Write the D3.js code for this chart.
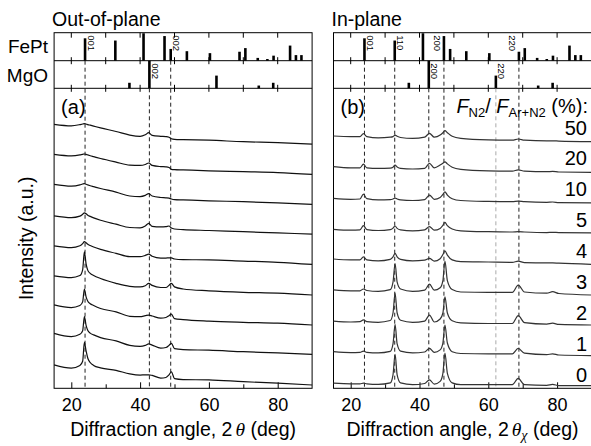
<!DOCTYPE html>
<html>
<head>
<meta charset="utf-8">
<script src="https://cdnjs.cloudflare.com/ajax/libs/d3/7.8.5/d3.min.js"></script>
<style>
  body { margin: 0; background: #fff; }
  svg { font-family: "Liberation Sans", Arial, sans-serif; }
</style>
</head>
<body>
<svg id="chart" width="591" height="446"></svg>
<script>
// ---- data ----
// out-of-plane scans (2theta grid, curves from 0 % to 50 %)
const oopAngles = [15, 20, 22.5, 23.3, 23.8, 24.3, 24.8, 25.5, 26.5, 28.5, 33, 37, 40, 41.5, 42.5, 43.5, 46, 47.5, 48.4, 49.1, 50, 52.5, 60, 70, 80, 90];
const oopCurves = [
  [7.8, 6.7, 7.6, 9.0, 15.3, 12.5, 10.0, 8.6, 7.6, 6.8, 6.0, 4.8, 4.4, 4.5, 4.5, 4.3, 3.4, 3.6, 4.5, 5.5, 3.2, 2.9, 2.8, 2.2, 1.7, 1.1],
  [8.3, 7.2, 8.0, 9.2, 13.9, 11.0, 9.3, 8.4, 7.8, 6.9, 5.8, 4.3, 4.0, 4.3, 4.8, 4.4, 3.4, 3.6, 4.3, 5.0, 3.2, 2.9, 2.7, 2.2, 1.8, 1.3],
  [7.8, 6.9, 7.6, 8.8, 13.1, 10.5, 9.0, 8.2, 7.6, 6.6, 5.5, 4.0, 3.9, 4.2, 4.4, 4.1, 3.4, 3.6, 4.2, 4.7, 3.2, 2.9, 2.4, 2.0, 1.7, 1.1],
  [7.5, 6.9, 7.6, 9.5, 15.5, 11.5, 9.3, 8.3, 7.6, 6.6, 5.0, 4.0, 3.8, 4.2, 5.0, 4.3, 3.6, 3.6, 4.3, 5.0, 3.8, 3.1, 2.5, 2.0, 1.7, 1.1],
  [7.5, 6.9, 7.5, 8.2, 8.9, 8.5, 8.0, 7.6, 7.1, 6.3, 5.0, 3.9, 3.9, 4.3, 4.7, 4.0, 3.4, 3.4, 3.5, 3.5, 3.1, 2.9, 2.8, 2.4, 2.0, 1.3],
  [7.5, 6.9, 7.4, 8.0, 8.5, 8.2, 7.7, 7.3, 6.8, 6.0, 4.7, 3.6, 3.5, 4.1, 5.0, 4.0, 3.8, 3.9, 4.1, 3.4, 3.1, 2.9, 2.6, 2.2, 1.8, 1.4],
  [8.0, 7.4, 7.8, 8.1, 8.2, 8.0, 7.8, 7.5, 7.2, 6.6, 5.4, 4.1, 3.9, 4.3, 4.9, 4.1, 3.6, 3.5, 3.4, 3.1, 2.9, 2.8, 2.5, 2.2, 1.8, 1.3],
  [8.0, 7.5, 7.8, 8.0, 8.1, 8.0, 7.8, 7.5, 7.2, 6.6, 5.4, 4.4, 4.3, 4.6, 5.1, 4.3, 3.9, 3.8, 3.6, 3.0, 2.9, 2.8, 2.5, 2.2, 1.9, 1.3],
  [8.0, 7.5, 7.9, 8.1, 8.2, 8.1, 7.9, 7.7, 7.4, 6.8, 5.6, 4.4, 4.0, 4.5, 5.2, 4.3, 4.0, 3.9, 3.7, 3.2, 3.0, 2.9, 2.7, 2.2, 1.9, 1.4]
];
const oopOffsets = [0, 10, 20, 30, 40, 50, 60, 70, 80];

// in-plane scans
const ipAngles = [15, 20, 22.7, 23.7, 24.7, 28, 31.5, 32.3, 32.9, 33.5, 34.5, 38, 41.5, 42.9, 44.3, 46, 46.8, 47.4, 48.1, 49.5, 52, 60, 67, 68.7, 70.5, 77, 78.7, 80.5, 90];
const ipCurves = [
  [1.7, 1.5, 1.5, 1.7, 1.5, 1.3, 1.8, 4.5, 11.3, 4.5, 1.8, 1.2, 1.6, 2.8, 1.4, 2.3, 5.0, 11.7, 5.0, 1.8, 1.2, 1.2, 1.2, 3.3, 1.2, 1.0, 1.3, 0.9, 0.9],
  [1.9, 1.6, 1.7, 2.1, 1.7, 1.5, 2.0, 4.5, 11.0, 4.5, 2.1, 1.5, 1.8, 3.0, 1.7, 2.5, 4.8, 10.8, 4.8, 1.9, 1.3, 1.2, 1.2, 3.0, 1.4, 0.9, 1.2, 0.8, 0.6],
  [1.8, 1.5, 1.6, 2.2, 1.6, 1.4, 2.0, 4.5, 11.1, 4.5, 2.1, 1.4, 1.8, 3.8, 1.5, 2.5, 4.5, 9.9, 4.5, 1.9, 1.2, 1.0, 1.0, 3.6, 1.3, 0.8, 1.1, 0.7, 0.5],
  [1.9, 1.6, 1.6, 2.2, 1.7, 1.4, 2.0, 4.5, 10.7, 4.5, 2.2, 1.4, 1.8, 3.8, 1.8, 2.6, 5.0, 11.5, 5.0, 2.0, 1.2, 1.1, 1.1, 3.5, 1.2, 0.8, 1.3, 0.7, 0.2],
  [1.9, 1.6, 1.6, 2.6, 1.6, 1.3, 1.8, 2.6, 3.8, 2.6, 1.8, 1.3, 1.5, 2.1, 1.2, 2.0, 3.4, 4.6, 3.2, 1.6, 1.0, 0.9, 0.8, 1.2, 0.7, 0.6, 0.6, 0.5, 0.1],
  [1.5, 1.2, 1.3, 2.7, 1.4, 1.1, 1.4, 1.9, 2.6, 1.8, 1.3, 1.0, 1.3, 2.4, 1.2, 1.8, 2.8, 3.8, 2.7, 1.6, 1.0, 0.7, 0.6, 0.7, 0.6, 0.4, 0.5, 0.4, 0.3],
  [1.5, 1.2, 1.3, 2.9, 1.4, 1.0, 1.1, 1.3, 1.6, 1.3, 1.0, 0.8, 1.1, 2.6, 1.2, 1.8, 2.8, 3.7, 2.6, 1.4, 0.8, 0.5, 0.4, 0.6, 0.4, 0.2, 0.3, 0.1, 0.0],
  [1.8, 1.4, 1.4, 2.6, 1.4, 1.2, 1.3, 1.6, 2.3, 1.7, 1.2, 1.0, 1.2, 2.9, 1.4, 2.3, 2.9, 3.4, 2.7, 1.6, 0.9, 0.4, 0.3, 0.7, 0.3, 0.1, 0.2, 0.0, -0.1],
  [1.7, 1.5, 1.5, 2.5, 1.5, 1.1, 1.3, 1.5, 2.0, 1.6, 1.2, 0.9, 1.3, 2.6, 1.3, 2.0, 2.8, 3.5, 2.8, 1.6, 0.9, 0.4, 0.3, 0.7, 0.3, 0.1, 0.1, 0.0, -0.2]
];
const ipOffsets = [0, 10.3, 20.6, 30.9, 41.2, 51.5, 61.8, 72.1, 82.4];
const ratioLabels = ["0", "1", "2", "3", "4", "5", "10", "20", "50"];

// reference stick patterns (relative intensity, %)
const fePtPeaks = [24.0, 32.8, 41.0, 47.1, 48.9, 53.6, 60.3, 68.9, 70.6, 74.2, 77.0, 78.8, 83.6, 85.3, 86.9];
const fePtInt   = [80, 72, 98, 88, 42, 34, 27, 32, 45, 10, 6, 18, 54, 20, 20];
const mgoPeaks  = [36.9, 42.7, 62.2, 74.5, 78.7];
const mgoInt    = [20, 100, 46, 10, 20];

// indexed reflections
const oopFePtHkl = [[24.0, "001"], [48.9, "002"]];
const oopMgoHkl  = [[42.7, "002"]];
const ipFePtHkl  = [[24.0, "001"], [32.8, "110"], [47.1, "200"], [68.9, "220"]];
const ipMgoHkl   = [[42.7, "200"], [62.2, "220"]];

// guide lines
const oopGuides = [[24.0, "FePt"], [42.7, "MgO"], [48.9, "FePt"]];
const ipGuides  = [[24.0, "FePt"], [32.8, "FePt"], [42.7, "MgO"], [47.1, "FePt"], [62.2, "MgO"], [68.9, "FePt"]];

const xTicksMajor = [20, 40, 60, 80];
const xTicksMinor = [30, 50, 70];

// ---- layout ----
const svg = d3.select("#chart");
const pw = 258;
const yTop = 32.7, yMid = 60.7, yMain = 88.3, yBot = 388.3;

const yMainScale = d3.scaleLinear().domain([0, 100]).range([yBot, yMain]);
const yFePt = d3.scaleLinear().domain([0, 100]).range([yMid, yTop]);
const yMgo = d3.scaleLinear().domain([0, 100]).range([yMain, yMid]);

function drawPanel(cfg) {
  const x = d3.scaleLinear().domain([15, 90]).range([cfg.x0, cfg.x0 + pw]);
  const g = svg.append("g");

  // frames
  g.append("rect").attr("x", cfg.x0).attr("y", yTop).attr("width", pw).attr("height", yBot - yTop)
    .attr("fill", "none").attr("stroke", "#000").attr("stroke-width", 1);
  [yMid, yMain].forEach(yy => g.append("line")
    .attr("x1", cfg.x0).attr("x2", cfg.x0 + pw).attr("y1", yy).attr("y2", yy)
    .attr("stroke", "#000"));

  // ticks on top box lines
  const allTicks = xTicksMajor.concat(xTicksMinor);
  allTicks.forEach(t => {
    g.append("line").attr("x1", x(t)).attr("x2", x(t)).attr("y1", yTop).attr("y2", yTop + 5).attr("stroke", "#000");
    [yMid, yMain].forEach(yy => g.append("line").attr("x1", x(t)).attr("x2", x(t))
      .attr("y1", yy - 3.5).attr("y2", yy + 3.5).attr("stroke", "#000"));
  });

  // bottom axis
  const axMaj = d3.axisBottom(x).tickValues(xTicksMajor).tickSizeInner(-6).tickSizeOuter(0).tickPadding(10);
  const axMin = d3.axisBottom(x).tickValues(xTicksMinor).tickSizeInner(-4).tickSizeOuter(0).tickFormat("");
  const ga = g.append("g").attr("transform", `translate(0,${yBot})`).call(axMaj);
  g.append("g").attr("transform", `translate(0,${yBot})`).call(axMin).select(".domain").remove();
  ga.select(".domain").remove();
  ga.selectAll("text").attr("font-size", 18).attr("font-family", "Liberation Sans, Arial, sans-serif").attr("fill", "#000");
  g.selectAll(".tick line").attr("stroke", "#000");

  // guide lines
  cfg.guides.forEach(([a, ph], i) => {
    g.append("line").attr("x1", x(a)).attr("x2", x(a))
      .attr("y1", ph === "FePt" ? yMid : yMain).attr("y2", yBot)
      .attr("stroke", cfg.grey && a === 62.2 ? "#aaa" : "#222")
      .attr("stroke-width", 1).attr("stroke-dasharray", "4,3");
  });

  // sticks
  fePtPeaks.forEach((p, i) => g.append("line").attr("x1", x(p)).attr("x2", x(p))
    .attr("y1", yFePt(0)).attr("y2", yFePt(fePtInt[i])).attr("stroke", "#000").attr("stroke-width", 2.6));
  mgoPeaks.forEach((p, i) => g.append("line").attr("x1", x(p)).attr("x2", x(p))
    .attr("y1", yMgo(0)).attr("y2", yMgo(mgoInt[i])).attr("stroke", "#000").attr("stroke-width", 2.6));

  const hkl = (list, y0, leftSet) => list.forEach(([a, t]) => {
    const left = leftSet.includes(t);
    const xx = left ? x(a) - 9.5 : x(a) + 2.5;
    g.append("text").attr("transform", `translate(${xx},${y0}) rotate(90)`)
      .attr("font-size", 9.5).text(t);
  });
  hkl(cfg.fePtHkl, yTop + 2.5, cfg.leftLabels);
  hkl(cfg.mgoHkl, yMid + 2.5, []);

  // curves
  const line = d3.line().curve(d3.curveMonotoneX);
  cfg.curves.forEach((c, i) => {
    const pts = cfg.angles.map((a, j) => [x(a), yMainScale(c[j] + cfg.offsets[i])]);
    g.append("path").attr("d", line(pts)).attr("fill", "none")
      .attr("stroke", cfg.curveColor).attr("stroke-width", 1.2);
  });

  // titles
  g.append("text").attr("x", cfg.x0 - 2).attr("y", 26).attr("font-size", 19.5).text(cfg.title);
  g.append("text").attr("x", cfg.x0 + 7).attr("y", 114).attr("font-size", 20).text(cfg.tag);

  // x-axis title
  const xt = g.append("text").attr("x", cfg.x0 + pw / 2).attr("y", 436).attr("text-anchor", "middle").attr("font-size", 19.5);
  xt.append("tspan").text("Diffraction angle, 2");
  xt.append("tspan").attr("font-family", "Liberation Serif, serif").attr("font-style", "italic").attr("dx", 3).text("θ");
  if (cfg.chi) {
    xt.append("tspan").attr("font-family", "Liberation Serif, serif").attr("font-style", "italic")
      .attr("font-size", 14).attr("dy", 4).text("χ");
    xt.append("tspan").attr("dy", -4).text(" (deg)");
  } else {
    xt.append("tspan").text(" (deg)");
  }
  return { x, g };
}

const left = drawPanel({
  x0: 54.1, title: "Out-of-plane", tag: "(a)", angles: oopAngles, curves: oopCurves, offsets: oopOffsets,
  guides: oopGuides, fePtHkl: oopFePtHkl, mgoHkl: oopMgoHkl, leftLabels: [], curveColor: "#111", chi: false
});
const right = drawPanel({
  x0: 333.5, title: "In-plane", tag: "(b)", angles: ipAngles, curves: ipCurves, offsets: ipOffsets,
  guides: ipGuides, fePtHkl: ipFePtHkl, mgoHkl: ipMgoHkl, leftLabels: ["200", "220"], curveColor: "#333", chi: true, grey: true
});

// ratio labels
ratioLabels.forEach((t, i) => {
  svg.append("text").attr("x", 587).attr("y", yMainScale(ipOffsets[i] + 2.2))
    .attr("text-anchor", "end").attr("font-size", 20).text(t);
});
const ft = svg.append("text").attr("x", 588).attr("y", 113).attr("text-anchor", "end").attr("font-size", 20);
ft.append("tspan").attr("font-style", "italic").text("F");
ft.append("tspan").attr("font-size", 13).attr("dy", 4).text("N2");
ft.append("tspan").attr("dy", -4).text("/ ");
ft.append("tspan").attr("font-style", "italic").text("F");
ft.append("tspan").attr("font-size", 13).attr("dy", 4).text("Ar+N2");
ft.append("tspan").attr("dy", -4).text(" (%):");

// phase labels and y title
svg.append("text").attr("x", 48).attr("y", 53).attr("text-anchor", "end").attr("font-size", 19).text("FePt");
svg.append("text").attr("x", 48).attr("y", 81.5).attr("text-anchor", "end").attr("font-size", 19).text("MgO");
svg.append("text").attr("transform", `translate(33,${(yMain + yBot) / 2}) rotate(-90)`)
  .attr("text-anchor", "middle").attr("font-size", 19.5).text("Intensity (a.u.)");
</script>
</body>
</html>
